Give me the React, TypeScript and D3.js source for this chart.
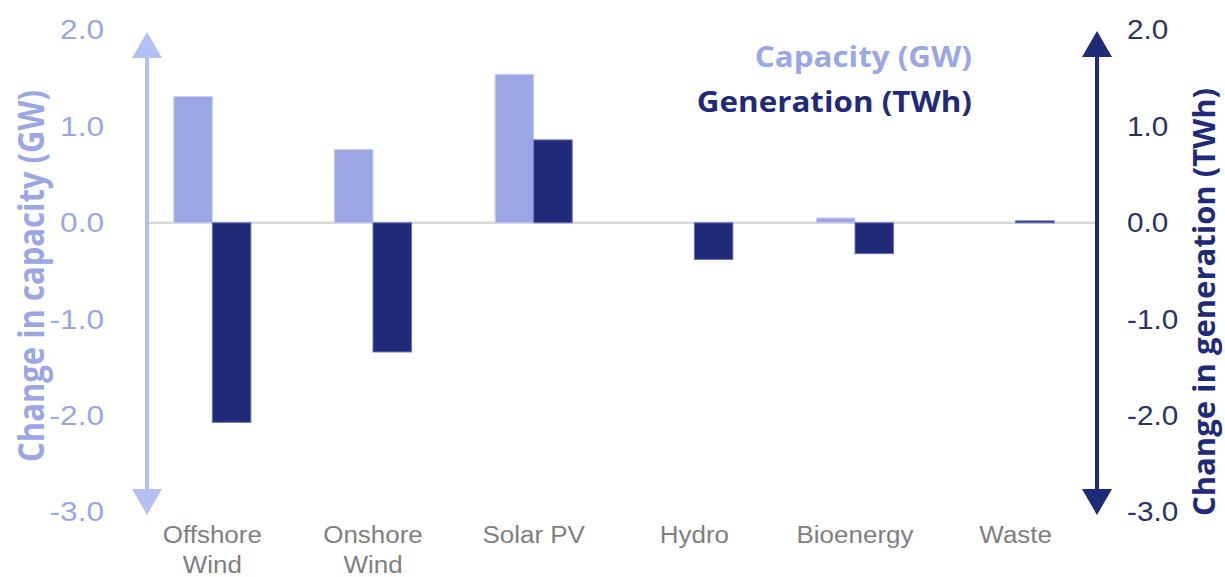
import React from "react";
import * as d3 from "d3";

const categories = ["Offshore Wind", "Onshore Wind", "Solar PV", "Hydro", "Bioenergy", "Waste"];
const categoryLines = [["Offshore", "Wind"], ["Onshore", "Wind"], ["Solar PV"], ["Hydro"], ["Bioenergy"], ["Waste"]];
const capacityGW = [1.31, 0.76, 1.54, 0, 0.05, 0];
const generationTWh = [-2.07, -1.34, 0.86, -0.38, -0.32, 0.02];
const tickValues = [2, 1, 0, -1, -2, -3];

const W = 1225;
const H = 577;
const capColor = "#9ba7e5";
const genColor = "#1f2a78";
const leftAxisColor = "#b4c0f4";
const grey = "#7f7f7f";

const fmt = (v: number) => d3.format(".1f")(v).replace("\u2212", "-");

export default function App() {
  const x = d3.scaleBand<string>().domain(categories).range([132, 1096]).padding(0);
  const y = d3.scaleLinear().domain([-3, 2]).range([512, 30]);
  const barW = x.bandwidth() * 0.24;
  const leftX = 147;
  const rightX = 1097;
  const titleFont = "'Open Sans', 'Noto Sans', sans-serif";
  const numFont = "'Liberation Sans', Arial, sans-serif";

  const arrow = (cx: number, tipY: number, dir: number, color: string) => {
    const hw = 15, hh = 26;
    return (
      <path
        d={`M${cx},${tipY} L${cx - hw},${tipY + dir * hh} L${cx + hw},${tipY + dir * hh} Z`}
        fill={color}
      />
    );
  };

  return (
    <svg width={W} height={H} style={{ position: "absolute", left: 0, top: 0, background: "#fff" }}>
      {/* zero line */}
      <line x1={leftX} x2={rightX} y1={y(0)} y2={y(0)} stroke="#d9d9d9" strokeWidth={2.5} />

      {/* bars */}
      {categories.map((c, i) => {
        const cx = (x(c) as number) + x.bandwidth() / 2;
        const cv = capacityGW[i];
        const gv = generationTWh[i];
        return (
          <g key={c}>
            {cv !== 0 && (
              <rect
                x={cx - barW}
                y={Math.min(y(cv), y(0))}
                width={barW}
                height={Math.abs(y(cv) - y(0))}
                fill={capColor}
                stroke="#c9d1f7"
                strokeWidth={1}
              />
            )}
            {gv !== 0 && (
              <rect
                x={cx}
                y={Math.min(y(gv), y(0))}
                width={barW}
                height={Math.max(1.5, Math.abs(y(gv) - y(0)))}
                fill={genColor}
                stroke="#6a74b8"
                strokeWidth={1}
              />
            )}
          </g>
        );
      })}

      {/* left axis */}
      <line x1={leftX} x2={leftX} y1={y(2) + 20} y2={y(-3) - 20} stroke={leftAxisColor} strokeWidth={4} />
      {arrow(leftX, y(2) + 2, 1, leftAxisColor)}
      {arrow(leftX, y(-3) + 3, -1, leftAxisColor)}
      {tickValues.map((v) => (
        <text
          key={"l" + v}
          transform={`translate(104,${y(v)}) scale(1.17,1)`}
          dy="0.35em"
          textAnchor="end"
          fontFamily={numFont}
          fontSize={27}
          fill={capColor}
        >
          {fmt(v)}
        </text>
      ))}

      {/* right axis */}
      <line x1={rightX} x2={rightX} y1={y(2) + 20} y2={y(-3) - 20} stroke={genColor} strokeWidth={4} />
      {arrow(rightX, y(2) + 1, 1, genColor)}
      {arrow(rightX, y(-3) + 3, -1, genColor)}
      {tickValues.map((v) => (
        <text
          key={"r" + v}
          transform={`translate(1127,${y(v)}) scale(1.1,1)`}
          dy="0.35em"
          textAnchor="start"
          fontFamily={numFont}
          fontSize={27}
          fill="#2a3366"
        >
          {fmt(v)}
        </text>
      ))}

      {/* axis titles */}
      <text
        transform={`translate(44,276) scale(1.15,1) rotate(-90)`}
        textAnchor="middle"
        fontFamily={titleFont}
        fontWeight="bold"
        fontSize={31}
        fill={capColor}
      >
        Change in capacity (GW)
      </text>
      <text
        transform={`translate(1215,302) scale(1.0,1) rotate(-90)`}
        textAnchor="middle"
        fontFamily={titleFont}
        fontWeight="bold"
        fontSize={31}
        fill={genColor}
      >
        Change in generation (TWh)
      </text>

      {/* legend */}
      <text
        transform="translate(972,67) scale(1.12,1)"
        textAnchor="end"
        fontFamily={titleFont}
        fontWeight="bold"
        fontSize={28}
        fill={capColor}
      >
        Capacity (GW)
      </text>
      <text
        transform="translate(972,112) scale(1.12,1)"
        textAnchor="end"
        fontFamily={titleFont}
        fontWeight="bold"
        fontSize={28}
        fill={genColor}
      >
        Generation (TWh)
      </text>

      {/* category labels */}
      {categories.map((c, i) => {
        const cx = (x(c) as number) + x.bandwidth() / 2;
        return (
          <text
            key={"c" + c}
            transform={`translate(${cx},543) scale(1.13,1)`}
            textAnchor="middle"
            fontFamily={numFont}
            fontSize={23}
            fill={grey}
          >
            {categoryLines[i].map((ln, j) => (
              <tspan key={j} x={0} dy={j === 0 ? 0 : 30}>
                {ln}
              </tspan>
            ))}
          </text>
        );
      })}
    </svg>
  );
}
